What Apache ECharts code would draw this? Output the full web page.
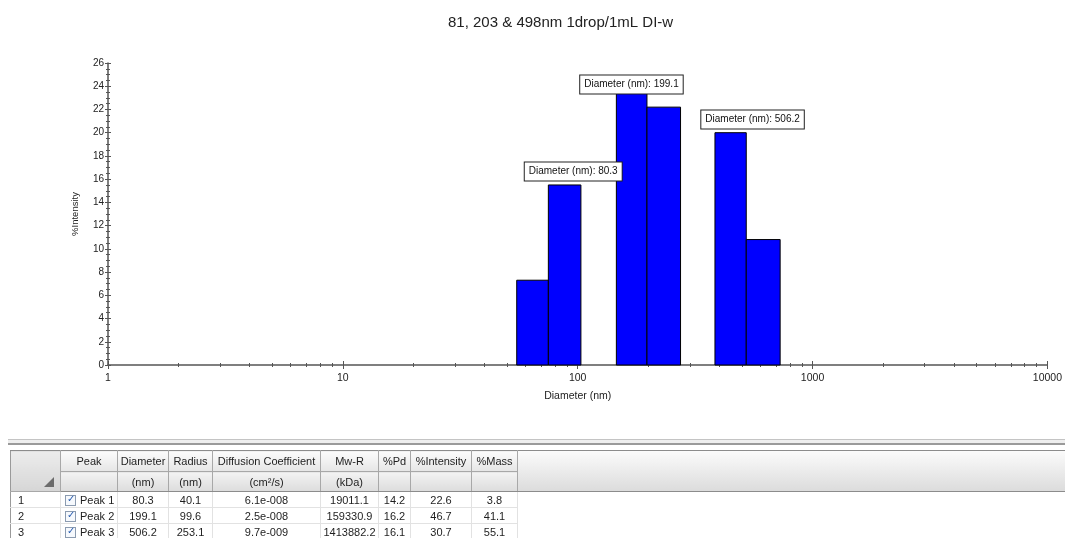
<!DOCTYPE html>
<html>
<head>
<meta charset="utf-8">
<script src="https://cdn.jsdelivr.net/npm/echarts@6/dist/echarts.min.js"></script>
<style>
body { margin: 0; width: 1065px; height: 538px; overflow: hidden; background: #fff; position: relative;
  font-family: Arial, "Liberation Sans", sans-serif; }
#chart { position: absolute; left: 0; top: 0; width: 1065px; height: 538px; }
.splitter { position: absolute; left: 8px; right: 0; top: 439px; height: 3px;
  border-top: 1px solid #c4c4c4; border-bottom: 2px solid #9a9a9a; background: #eeeeee; }
.filler { position: absolute; left: 517px; right: 0; top: 450px; height: 40px;
  border-top: 1px solid #8c8c8c; border-bottom: 1px solid #8c8c8c;
  background: linear-gradient(#fbfbfb, #dcdcdc); }
#peaks { position: absolute; left: 10px; top: 450px; border-collapse: collapse; table-layout: fixed;
  font-size: 11px; color: #1e1e1e; }
#peaks td { padding: 0; text-align: center; white-space: nowrap; overflow: hidden; }
#peaks tr.h1 td { height: 20px; background: linear-gradient(#fbfbfb, #e6e6e6);
  border: 1px solid #a8a8a8; border-top-color: #8c8c8c; }
#peaks tr.h2 td { height: 19px; background: linear-gradient(#f3f3f3, #dcdcdc);
  border: 1px solid #a8a8a8; border-bottom-color: #8c8c8c; }
#peaks tr.d td { height: 15px; border: 1px solid #e2e2e2; background: #fff; }
#peaks td.num { text-align: left; padding-left: 7px; border-left-color: #9a9a9a !important; }
#peaks td.corner { position: relative; background: linear-gradient(#ececec, #d6d6d6) !important;
  border-left-color: #9a9a9a !important; }
.tri { position: absolute; right: 6px; bottom: 4px; width: 0; height: 0;
  border-left: 10px solid transparent; border-bottom: 10px solid #6c6c6c; }
td.pk { text-align: left !important; padding-left: 4px !important; }
.cb { display: inline-block; width: 9px; height: 9px; border: 1px solid #8b9bb0; background: #f6f9fd;
  vertical-align: -2px; margin-right: 4px; position: relative; }
.cb::after { content: "\2713"; position: absolute; left: 1px; top: -3px; font-size: 10px; color: #2a5db0; }
</style>
</head>
<body>
<div id="chart"></div>
<div class="splitter"></div>
<div class="filler"></div>
<table id="peaks"></table>
<script>
// histogram bins (nm)
const binLeft = [55.0, 75.0, 146.1, 197.2, 384.1, 522.1];
const binRight = [75.0, 103.2, 197.2, 274.1, 522.1, 727.8];
const intensity = [7.3, 15.5, 24.5, 22.2, 20.0, 10.8];

// peak call-outs
const peakDiameter = [80.3, 199.1, 506.2];
const peakLabelX = [95.7, 169.4, 555.3];
const peakLabelY = [15.84, 23.33, 20.32];

const xMajorTicks = [1, 10, 100, 1000, 10000];
const xMinorTicks = [];
for (let d = 1; d < 10000; d *= 10) {
  for (let k = 2; k <= 9; k++) xMinorTicks.push(k * d);
}

// table
const peakNames = ['Peak 1', 'Peak 2', 'Peak 3'];
const radius = ['40.1', '99.6', '253.1'];
const diffCoef = ['6.1e-008', '2.5e-008', '9.7e-009'];
const mwR = ['19011.1', '159330.9', '1413882.2'];
const pd = ['14.2', '16.2', '16.1'];
const pctIntensity = ['22.6', '46.7', '30.7'];
const pctMass = ['3.8', '41.1', '55.1'];

const colWidths = [50, 57, 51, 44, 108, 58, 32, 61, 46];

let html = '<colgroup>' + colWidths.map(w => '<col style="width:' + w + 'px">').join('') + '</colgroup>';
html += '<tr class="h1"><td class="corner" rowspan="2"><span class="tri"></span></td>' +
  ['Peak', 'Diameter', 'Radius', 'Diffusion Coefficient', 'Mw-R', '%Pd', '%Intensity', '%Mass']
    .map(t => '<td>' + t + '</td>').join('') + '</tr>';
html += '<tr class="h2">' + ['', '(nm)', '(nm)', '(cm²/s)', '(kDa)', '', '', '']
  .map(t => '<td>' + t + '</td>').join('') + '</tr>';
for (let i = 0; i < peakNames.length; i++) {
  html += '<tr class="d"><td class="num">' + (i + 1) + '</td>' +
    '<td class="pk"><span class="cb"></span>' + peakNames[i] + '</td>' +
    [peakDiameter[i].toFixed(1), radius[i], diffCoef[i], mwR[i], pd[i], pctIntensity[i], pctMass[i]]
      .map(t => '<td>' + t + '</td>').join('') + '</tr>';
}
document.getElementById('peaks').innerHTML = html;

const fontFamily = 'Arial, "Liberation Sans", sans-serif';
const axisColor = '#555';

function tickAxis(values, inside, len) {
  return {
    type: 'log', logBase: 10, min: 1, max: 10000, position: 'bottom',
    axisLine: { show: false, onZero: false },
    axisTick: { show: true, inside: inside, length: len, customValues: values,
      lineStyle: { color: axisColor, width: 1 } },
    axisLabel: { show: false },
    splitLine: { show: false }
  };
}

const bins = binLeft.map((l, i) => [l, binRight[i], intensity[i]]);

let option = {
  animation: false,
  title: {
    text: '81, 203 & 498nm 1drop/1mL DI-w',
    left: 448, top: 15, padding: 0,
    textStyle: { fontSize: 15, fontWeight: 'normal', color: '#222', fontFamily: fontFamily }
  },
  grid: { left: 108, right: 14, top: 63, bottom: 173 },
  xAxis: [
    {
      type: 'log', logBase: 10, min: 1, max: 10000, position: 'bottom',
      name: 'Diameter (nm)', nameLocation: 'middle', nameGap: 26,
      nameTextStyle: { fontSize: 10.5, color: '#222', fontFamily: fontFamily },
      axisLine: { show: true, onZero: false, lineStyle: { color: axisColor, width: 1.5 } },
      axisTick: { show: true, length: 4, customValues: xMajorTicks, lineStyle: { color: axisColor } },
      axisLabel: { show: true, customValues: xMajorTicks, margin: 8, fontSize: 10.5, color: '#222',
        fontFamily: fontFamily, formatter: v => String(Math.round(v)) },
      splitLine: { show: false }
    },
    tickAxis(xMajorTicks, true, 4),
    tickAxis(xMinorTicks, false, 2),
    tickAxis(xMinorTicks, true, 2)
  ],
  yAxis: [
    {
      type: 'value', min: 0, max: 26, interval: 2, position: 'left',
      name: '%Intensity', nameLocation: 'middle', nameGap: 28, nameRotate: 90,
      nameTextStyle: { fontSize: 9.5, color: '#222', fontFamily: fontFamily },
      axisLine: { show: true, onZero: false, lineStyle: { color: axisColor, width: 1.5 } },
      axisTick: { show: true, length: 3, lineStyle: { color: axisColor } },
      minorTick: { show: true, splitNumber: 4, length: 2, lineStyle: { color: axisColor } },
      axisLabel: { margin: 4, fontSize: 10, color: '#222', fontFamily: fontFamily },
      splitLine: { show: false }
    },
    {
      type: 'value', min: 0, max: 26, interval: 2, position: 'left',
      axisLine: { show: false },
      axisTick: { show: true, inside: true, length: 3, lineStyle: { color: axisColor } },
      minorTick: { show: true, splitNumber: 4, length: 2, lineStyle: { color: axisColor } },
      axisLabel: { show: false },
      splitLine: { show: false }
    }
  ],
  series: [
    {
      type: 'custom',
      xAxisIndex: 0, yAxisIndex: 0,
      data: bins,
      encode: { x: [0, 1], y: 2 },
      renderItem: function (params, api) {
        const topLeft = api.coord([api.value(0), api.value(2)]);
        const bottomRight = api.coord([api.value(1), 0]);
        return {
          type: 'rect',
          shape: { x: topLeft[0], y: topLeft[1],
            width: bottomRight[0] - topLeft[0], height: bottomRight[1] - topLeft[1] },
          style: { fill: '#0000ff', stroke: '#000', lineWidth: 1 }
        };
      }
    },
    {
      type: 'scatter',
      xAxisIndex: 0, yAxisIndex: 0,
      z: 10, silent: true,
      symbolSize: 1,
      itemStyle: { color: 'rgba(0,0,0,0)', opacity: 1 },
      data: peakLabelX.map((x, i) => [x, peakLabelY[i], peakDiameter[i]]),
      label: {
        show: true, position: 'top', distance: 0, opacity: 1,
        formatter: p => 'Diameter (nm): ' + p.value[2].toFixed(1),
        fontSize: 10, color: '#111', fontFamily: fontFamily, lineHeight: 12,
        backgroundColor: '#fff', borderColor: '#222', borderWidth: 1, padding: [3, 4, 3, 4]
      }
    }
  ]
};

let mychart = echarts.init(document.getElementById('chart'));
mychart.setOption(option);
</script>
</body>
</html>
